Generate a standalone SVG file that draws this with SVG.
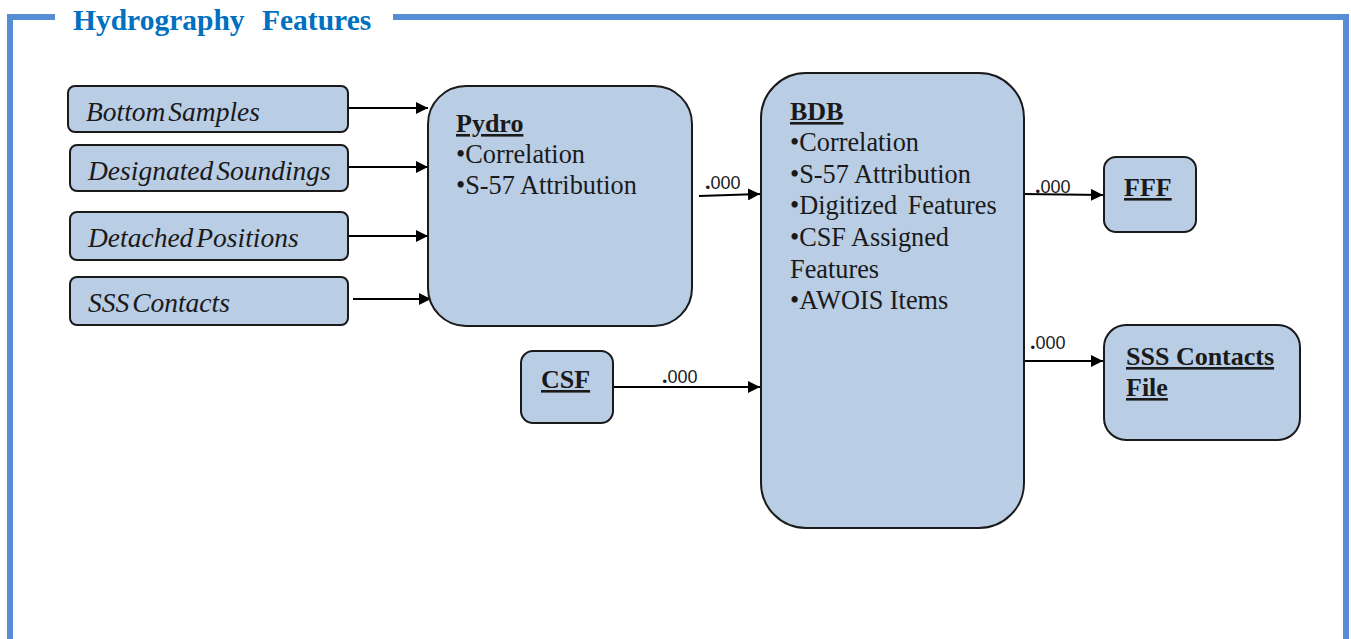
<svg xmlns="http://www.w3.org/2000/svg" width="1351" height="639" viewBox="0 0 1351 639">
<style>
.box{fill:#b9cde5;stroke:#1a1a1a;stroke-width:2}
.frame{fill:none;stroke:#558ed5;stroke-width:6}
.title{font-family:"Liberation Serif",serif;font-weight:bold;font-size:29.5px;fill:#0070c0}
.it{font-family:"Liberation Serif",serif;font-style:italic;font-size:27.5px;fill:#1a1a1a;word-spacing:-4px}
.tx{font-family:"Liberation Serif",serif;font-size:26.3px;fill:#1a1a1a}
.hd{font-family:"Liberation Serif",serif;font-weight:bold;font-size:26px;fill:#1a1a1a;text-decoration:underline}
.lbl{font-family:"Liberation Sans",sans-serif;font-size:18px;fill:#1a1a1a}
.dot{font-family:"Liberation Serif",serif;font-weight:bold;font-size:22px}
.conn{fill:none;stroke:#000;stroke-width:2}
</style>
<defs>
<marker id="arr" markerUnits="userSpaceOnUse" markerWidth="13" markerHeight="12" refX="12" refY="6" orient="auto">
<path d="M0,0 L12,6 L0,12 Z" fill="#000"/>
</marker>
</defs>
<rect width="1351" height="639" fill="#fff"/>
<g id="frame">
<path class="frame" d="M55,17 H10 V639"/>
<path class="frame" d="M393,17 H1346 V639"/>
<text class="title" x="73" y="30">Hydrography</text>
<text class="title" x="262" y="30">Features</text>
</g>
<g id="connectors">
<line class="conn" x1="348" y1="108" x2="428" y2="108" marker-end="url(#arr)"/>
<line class="conn" x1="348" y1="167" x2="428" y2="167" marker-end="url(#arr)"/>
<line class="conn" x1="348" y1="236" x2="428" y2="236" marker-end="url(#arr)"/>
<line class="conn" x1="353" y1="299" x2="431" y2="299" marker-end="url(#arr)"/>
<line class="conn" x1="699" y1="196" x2="760" y2="194" marker-end="url(#arr)"/>
<line class="conn" x1="614" y1="387" x2="760" y2="387" marker-end="url(#arr)"/>
<line class="conn" x1="1024" y1="194" x2="1103" y2="195" marker-end="url(#arr)"/>
<line class="conn" x1="1024" y1="361" x2="1103" y2="361" marker-end="url(#arr)"/>
<text class="lbl" x="705" y="189"><tspan class="dot">.</tspan>000</text>
<text class="lbl" x="662" y="383"><tspan class="dot">.</tspan>000</text>
<text class="lbl" x="1035" y="193"><tspan class="dot">.</tspan>000</text>
<text class="lbl" x="1030" y="349"><tspan class="dot">.</tspan>000</text>
</g>
<g id="bottom-samples">
<rect class="box" x="68" y="86" width="280" height="46" rx="7"/>
<text class="it" x="86" y="121">Bottom Samples</text>
</g>
<g id="designated-soundings">
<rect class="box" x="70" y="145" width="278" height="46" rx="7"/>
<text class="it" x="88" y="180">Designated Soundings</text>
</g>
<g id="detached-positions">
<rect class="box" x="70" y="212" width="278" height="48" rx="7"/>
<text class="it" x="88" y="247">Detached Positions</text>
</g>
<g id="sss-contacts">
<rect class="box" x="70" y="277" width="278" height="48" rx="7"/>
<text class="it" x="88" y="312">SSS Contacts</text>
</g>
<g id="pydro">
<rect class="box" x="428" y="86" width="264" height="240" rx="38"/>
<text class="hd" x="456" y="132">Pydro</text>
<text class="tx" x="456" y="163">•Correlation</text>
<text class="tx" x="456" y="194">•S-57 Attribution</text>
</g>
<g id="bdb">
<rect class="box" x="761" y="73" width="263" height="455" rx="45"/>
<text class="hd" x="790" y="120">BDB</text>
<text class="tx" x="790" y="151">•Correlation</text>
<text class="tx" x="790" y="183">•S-57 Attribution</text>
<text class="tx" x="790" y="214" style="word-spacing:4px">•Digitized Features</text>
<text class="tx" x="790" y="246">•CSF Assigned</text>
<text class="tx" x="790" y="278">Features</text>
<text class="tx" x="790" y="309">•AWOIS Items</text>
</g>
<g id="csf">
<rect class="box" x="521" y="351" width="92" height="72" rx="12"/>
<text class="hd" x="541" y="388">CSF</text>
</g>
<g id="fff">
<rect class="box" x="1104" y="157" width="92" height="75" rx="12"/>
<text class="hd" x="1124" y="196">FFF</text>
</g>
<g id="sss-contacts-file">
<rect class="box" x="1104" y="325" width="196" height="115" rx="22"/>
<text class="hd" x="1126" y="365">SSS Contacts</text>
<text class="hd" x="1126" y="396">File</text>
</g>
</svg>
